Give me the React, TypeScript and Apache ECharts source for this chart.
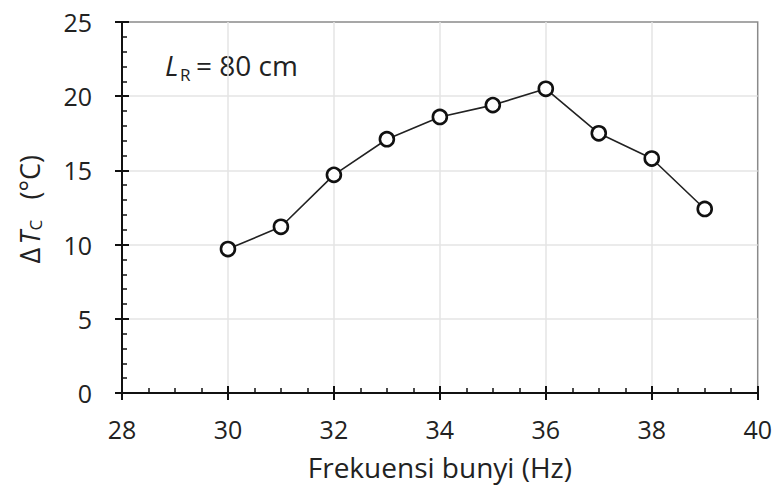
import React, { useEffect, useRef } from "react";
import * as echarts from "echarts";

const freq = [30, 31, 32, 33, 34, 35, 36, 37, 38, 39];
const deltaT = [9.7, 11.2, 14.7, 17.1, 18.6, 19.4, 20.5, 17.5, 15.8, 12.4];
const xTicks = { min: 28, max: 40, interval: 2 };
const yTicks = { min: 0, max: 25, interval: 5 };
const xAxisTitle = "Frekuensi bunyi (Hz)";

const FONT = "'Open Sans', 'Noto Sans', sans-serif";
const INK = "#222";

export default function App() {
  const ref = useRef<HTMLDivElement>(null);
  useEffect(() => {
    if (!ref.current) return;
    const chart = echarts.init(ref.current, undefined, { renderer: "svg" });
    const gridL = 122, gridR = 17, gridT = 22, gridB = 99;
    const baseAxis = {
      type: "value" as const,
      axisLine: { show: true, onZero: false, lineStyle: { color: "#111", width: 2 } },
    };
    chart.setOption({
      animation: false,
      backgroundColor: "#fff",
      grid: {
        left: gridL, right: gridR, top: gridT, bottom: gridB,
        show: true, borderColor: "#8a8a8a", borderWidth: 1.5, backgroundColor: "transparent",
      },
      xAxis: [
        {
          ...baseAxis, position: "bottom", ...xTicks,
          axisTick: { show: true, inside: true, length: 7, lineStyle: { color: "#111", width: 2 } },
          minorTick: { show: true, splitNumber: 4, length: 5, lineStyle: { color: "#111", width: 1.5 } },
          axisLabel: { show: true, margin: 23, color: INK, fontSize: 25, fontFamily: FONT },
          splitLine: { show: true, showMinLine: false, showMaxLine: false, lineStyle: { color: "#e4e4e4", width: 1.5 } },
          name: xAxisTitle, nameLocation: "middle", nameGap: 60,
          nameTextStyle: { color: INK, fontSize: 28, fontFamily: FONT },
        },
        {
          ...baseAxis, position: "bottom", ...xTicks,
          axisLine: { show: false, onZero: false },
          axisTick: { show: true, inside: false, length: 7, lineStyle: { color: "#111", width: 2 } },
          axisLabel: { show: false }, splitLine: { show: false },
        },
      ],
      yAxis: [
        {
          ...baseAxis, position: "left", ...yTicks,
          axisTick: { show: true, inside: true, length: 7, lineStyle: { color: "#111", width: 2 } },
          minorTick: { show: true, splitNumber: 5, length: 5, lineStyle: { color: "#111", width: 1.5 } },
          axisLabel: { show: true, margin: 30, color: INK, fontSize: 25, fontFamily: FONT },
          splitLine: { show: true, showMinLine: false, showMaxLine: false, lineStyle: { color: "#e4e4e4", width: 1.5 } },
        },
        {
          ...baseAxis, position: "left", ...yTicks,
          axisLine: { show: false, onZero: false },
          axisTick: { show: true, inside: false, length: 7, lineStyle: { color: "#111", width: 2 } },
          axisLabel: { show: false }, splitLine: { show: false },
        },
      ],
      series: [
        {
          type: "line",
          xAxisIndex: 0, yAxisIndex: 0,
          data: freq.map((f, i) => [f, deltaT[i]]),
          symbol: "circle", symbolSize: 14,
          itemStyle: { color: "#fff", borderColor: "#111", borderWidth: 2.6 },
          lineStyle: { color: "#222", width: 1.6 },
          z: 5,
        },
      ],
      graphic: [
        {
          type: "group", x: 29, y: 207.5, rotation: Math.PI / 2,
          children: [
            { type: "text", x: -56, y: 0, style: { text: "Δ", font: `27px ${FONT}`, fill: INK, textAlign: "left", textVerticalAlign: "middle" } },
            { type: "text", x: -37, y: 0, style: { text: "T", font: `italic 27px ${FONT}`, fill: INK, textAlign: "left", textVerticalAlign: "middle" } },
            { type: "text", x: -23, y: 6, style: { text: "C", font: `17px ${FONT}`, fill: INK, textAlign: "left", textVerticalAlign: "middle" } },
            { type: "text", x: 8, y: 0, style: { text: "(°C)", font: `27px ${FONT}`, fill: INK, textAlign: "left", textVerticalAlign: "middle" } },
          ],
        },
        { type: "text", x: 165, y: 65, style: { text: "L", font: `italic 28px ${FONT}`, fill: INK, textAlign: "left", textVerticalAlign: "middle" } },
        { type: "text", x: 180, y: 74, style: { text: "R", font: `17px ${FONT}`, fill: INK, textAlign: "left", textVerticalAlign: "middle" } },
        { type: "text", x: 196, y: 65, style: { text: "= 80 cm", font: `28px ${FONT}`, fill: INK, textAlign: "left", textVerticalAlign: "middle" } },
      ],
    });
    return () => chart.dispose();
  }, []);
  return <div ref={ref} style={{ position: "fixed", left: 0, top: 0, width: 775, height: 492 }} />;
}
